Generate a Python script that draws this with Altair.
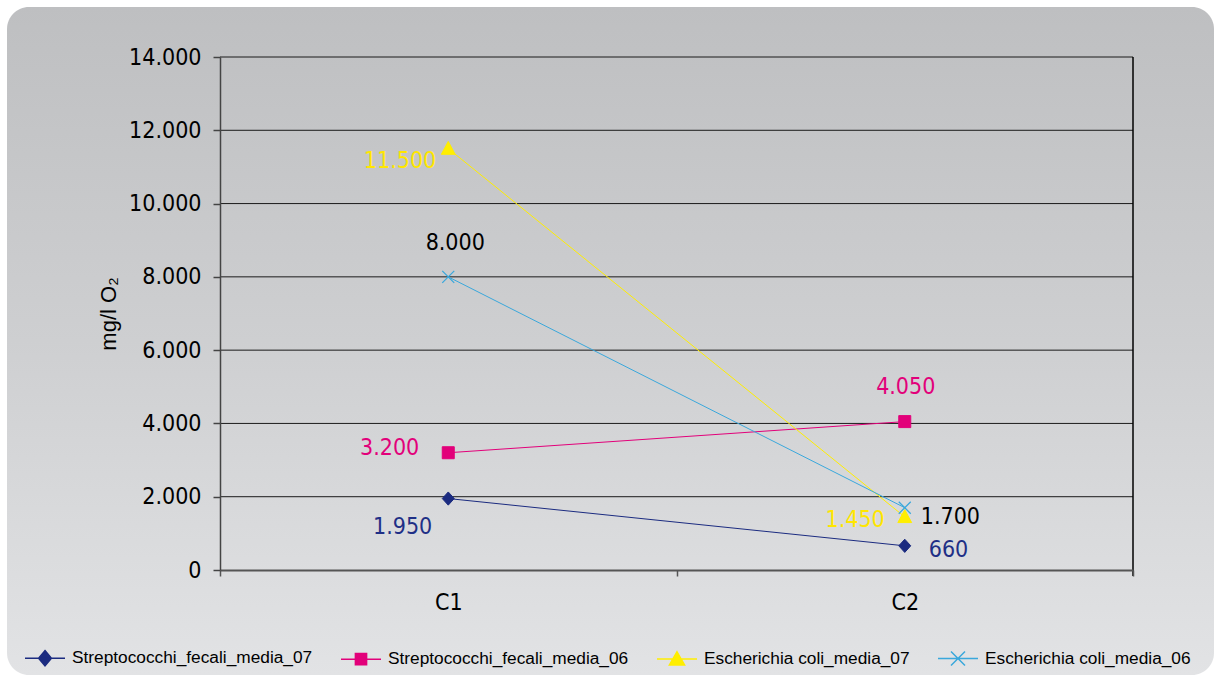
import altair as alt
import pandas as pd

# ---- data -------------------------------------------------------------
categories = ["C1", "C2"]
series_names = [
    "Streptococchi_fecali_media_07",
    "Streptococchi_fecali_media_06",
    "Escherichia coli_media_07",
    "Escherichia coli_media_06",
]
strep_07 = [1950, 660]
strep_06 = [3200, 4050]
ecoli_07 = [11500, 1450]
ecoli_06 = [8000, 1700]
y_ticks = [0, 2000, 4000, 6000, 8000, 10000, 12000, 14000]

# ---- styles -----------------------------------------------------------
series_colors = ["#1b2b80", "#e2007a", "#ffee00", "#3aa8dc"]
label_colors = ["#1f2f86", "#e2007a", "#ffe600", "#000000"]

# marker outlines used on the plot (unit = 6 px)
marker_paths = [
    "M0,-1.1L1,0L0,1.1L-1,0Z",
    "M-1,-1H1V1H-1Z",
    "M0,-1.2L1.15,0.95L-1.15,0.95Z",
    "M-1,-1L1,1M-1,1L1,-1",
]
marker_filled = [True, True, True, False]

# legend glyphs: a short line with the marker on it (unit = 20 px)
legend_paths = [
    "M-1,0H1M0,-0.38L0.32,0L0,0.38L-0.32,0Z",
    "M-1,0H1M-0.28,-0.28H0.28V0.28H-0.28Z",
    "M-1,0H1M0,-0.36L0.38,0.3L-0.38,0.3Z",
    "M-1,0H1M-0.35,-0.35L0.35,0.35M-0.35,0.35L0.35,-0.35",
]

# value label placement per (series, category): align, dx, dy
label_place = {
    (0, 0): ("right", -16, 28),
    (0, 1): ("left", 24, 4),
    (1, 0): ("right", -29, -5),
    (1, 1): ("center", 1, -35),
    (2, 0): ("right", -12, 12),
    (2, 1): ("right", -20, 3),
    (3, 0): ("center", 7, -34),
    (3, 1): ("left", 16, 9),
}

NUM_FONT = "DejaVu Sans Condensed, DejaVu Sans"
LEG_FONT = "Liberation Sans"
W, H = 913, 513

values = [strep_07, strep_06, ecoli_07, ecoli_06]
df = pd.DataFrame(
    [
        {"serie": s, "cat": c, "value": v[i]}
        for s, v in zip(series_names, values)
        for i, c in enumerate(categories)
    ]
)

num_label = "replace(format(datum.value, ','), ',', '.')"

x_scale = alt.Scale(type="band", domain=categories, paddingInner=0, paddingOuter=0)
y_scale = alt.Scale(domain=[0, 14000], nice=False)

x_axis = alt.Axis(
    title=None,
    tickBand="extent",
    labelAngle=0,
    labelFont=NUM_FONT,
    labelFontSize=23,
    labelColor="#000000",
    labelPadding=15,
    tickSize=6,
    tickColor="#555555",
    tickWidth=1.5,
    domainColor="#555555",
    domainWidth=2,
    grid=False,
    zindex=1,
)
y_axis = alt.Axis(
    values=y_ticks,
    labelExpr=num_label,
    title="mg/l O₂",
    titleFont="Liberation Sans",
    titleFontSize=22,
    titleFontWeight="normal",
    titleColor="#000000",
    titlePadding=8,
    labelFont=NUM_FONT,
    labelFontSize=23,
    labelColor="#000000",
    labelPadding=12,
    tickSize=7,
    tickColor="#444444",
    tickWidth=1.5,
    domainColor="#444444",
    domainWidth=1.5,
    grid=False,
    zindex=1,
)

X = alt.X("cat:N", scale=x_scale, bandPosition=0.5, axis=x_axis)
Y = alt.Y("value:Q", scale=y_scale, axis=y_axis)

# rounded gradient panel behind the whole chart
panel_fill = alt.Gradient(
    gradient="linear",
    stops=[
        alt.GradientStop(offset=0, color="#bebfc1"),
        alt.GradientStop(offset=0.5, color="#cecfd1"),
        alt.GradientStop(offset=1, color="#e2e3e5"),
    ],
    x1=0, x2=0, y1=0, y2=1,
)
panel = alt.Chart(pd.DataFrame({"k": [0]})).mark_rect(
    fill=panel_fill, cornerRadius=22
).encode(
    x=alt.value(-213), x2=alt.value(994), y=alt.value(-50), y2=alt.value(618)
)

# horizontal gridlines at the tick values
grid = alt.Chart(pd.DataFrame({"v": y_ticks[1:]})).mark_rule(
    color="#1a1a1a", strokeWidth=1
).encode(y=alt.Y("v:Q", scale=y_scale, axis=y_axis))

# right edge of the plot frame
frame = alt.Chart(pd.DataFrame({"k": [0]})).mark_rule(
    color="#000000", strokeWidth=1.5
).encode(x=alt.value(W), y=alt.value(0), y2=alt.value(H + 6))

layers = [panel, grid, frame]

base = alt.Chart(df)
for i, name in enumerate(series_names):
    col = series_colors[i]
    sub = base.transform_filter(alt.datum.serie == name)
    layers.append(sub.mark_line(color=col, strokeWidth=1).encode(x=X, y=Y))
    if marker_filled[i]:
        pt = sub.mark_point(
            shape=marker_paths[i], size=144, filled=True, fill=col,
            stroke=col, strokeWidth=1, opacity=1,
        )
    else:
        pt = sub.mark_point(
            shape=marker_paths[i], size=144, filled=False,
            stroke=col, strokeWidth=1.3, opacity=1,
        )
    layers.append(pt.encode(x=X, y=Y))

for (i, j), (align, dx, dy) in label_place.items():
    lab = (
        base.transform_filter(
            (alt.datum.serie == series_names[i]) & (alt.datum.cat == categories[j])
        )
        .transform_calculate(label=num_label)
        .mark_text(
            align=align, baseline="middle", dx=dx, dy=dy,
            font=NUM_FONT, fontSize=23, color=label_colors[i],
        )
        .encode(x=X, y=Y, text="label:N")
    )
    layers.append(lab)

# legend built from the series scales only (no marks drawn)
legend = alt.Legend(
    orient="none",
    legendX=-196,
    legendY=580,
    direction="horizontal",
    title=None,
    symbolSize=1600,
    symbolStrokeWidth=1.5,
    labelFont=LEG_FONT,
    labelFontSize=17.3,
    labelColor="#000000",
    labelLimit=400,
    labelOffset=6,
    columnPadding=25,
    padding=0,
)
col_scale = alt.Scale(domain=series_names, range=series_colors)
shape_scale = alt.Scale(domain=series_names, range=legend_paths)
legend_layer = (
    base.transform_filter("false")
    .mark_point(filled=True, opacity=1)
    .encode(
        fill=alt.Fill("serie:N", scale=col_scale, legend=legend),
        stroke=alt.Stroke("serie:N", scale=col_scale, legend=legend),
        shape=alt.Shape("serie:N", scale=shape_scale, legend=legend),
    )
)
layers.append(legend_layer)

chart = (
    alt.layer(*layers)
    .properties(
        width=W,
        height=H,
        padding={"left": 220, "top": 57, "right": 81, "bottom": 105},
        autosize=alt.AutoSizeParams(type="none"),
        background="#ffffff",
    )
    .configure_view(strokeWidth=0)
)

chart.save("out.html", embed_options={"renderer": "svg", "actions": False})
